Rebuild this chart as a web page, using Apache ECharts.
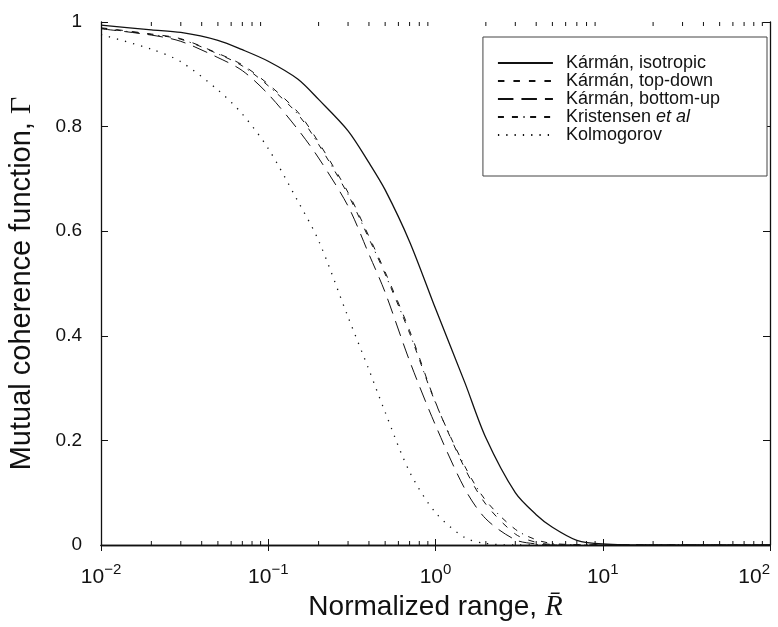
<!DOCTYPE html>
<html>
<head>
<meta charset="utf-8">
<script src="https://cdn.jsdelivr.net/npm/echarts@6/dist/echarts.min.js"></script>
<style>
html,body{margin:0;padding:0;background:#fff;}
#chart{width:778px;height:627px;}
</style>
</head>
<body>
<div id="chart"></div>
<script>
// Normalized range values (x), shared by all curves
const R = [0.01, 0.02, 0.03, 0.05, 0.07, 0.1, 0.15, 0.2, 0.3, 0.4, 0.5, 0.7, 1, 1.5, 2, 3, 4, 5, 7, 10, 20, 50, 100];
// Mutual coherence function values
const karmanIsotropic = [0.994, 0.985, 0.980, 0.965, 0.947, 0.925, 0.891, 0.852, 0.792, 0.731, 0.679, 0.580, 0.452, 0.310, 0.205, 0.100, 0.058, 0.034, 0.009, 0.002, 0, 0, 0];
const karmanTopDown = [0.989, 0.977, 0.968, 0.940, 0.918, 0.881, 0.828, 0.770, 0.674, 0.590, 0.522, 0.410, 0.273, 0.146, 0.078, 0.021, 0.005, 0.001, 0, 0, 0, 0, 0];
const karmanBottomUp = [0.987, 0.975, 0.963, 0.932, 0.907, 0.862, 0.795, 0.740, 0.648, 0.556, 0.483, 0.352, 0.229, 0.107, 0.050, 0.010, 0.002, 0, 0, 0, 0, 0, 0];
const kristensen = [0.988, 0.976, 0.967, 0.939, 0.916, 0.878, 0.824, 0.766, 0.670, 0.586, 0.518, 0.405, 0.272, 0.150, 0.085, 0.030, 0.010, 0.003, 0.0005, 0, 0, 0, 0];
const kolmogorov = [0.976, 0.948, 0.924, 0.870, 0.824, 0.758, 0.658, 0.582, 0.436, 0.335, 0.254, 0.140, 0.062, 0.014, 0.003, 0, 0, 0, 0, 0, 0, 0, 0];
// Axis tick labels
const xDecades = [0.01, 0.1, 1, 10, 100];
const xExponents = ['\u22122', '\u22121', '0', '1', '2'];
const yTicks = [0, 0.2, 0.4, 0.6, 0.8, 1];
const seriesNames = ['Kármán, isotropic', 'Kármán, top-down', 'Kármán, bottom-up', 'Kristensen et al', 'Kolmogorov'];

const FONT = "'Liberation Sans', Arial, sans-serif";
const SERIF = "'Liberation Serif', 'Times New Roman', serif";

// minor tick positions on the log axis (2..9 x 10^k)
const minorTicks = [];
for (let d = 0; d < xDecades.length - 1; d++) {
  for (let m = 2; m <= 9; m++) minorTicks.push(xDecades[d] * m);
}

function pairs(vals) { return R.map((r, i) => [r, vals[i]]); }

const styles = [
  { type: 'solid', width: 1.3 },
  { type: [6.5, 9], width: 1 },
  { type: [15.5, 8], width: 1 },
  { type: [6, 8, 6, 5.5, 1.2, 5.5], width: 1 },
  { type: [1.3, 7], width: 1.3 }
];
const dataSets = [karmanIsotropic, karmanTopDown, karmanBottomUp, kristensen, kolmogorov];

const lineSeries = dataSets.map((d, i) => ({
  name: seriesNames[i],
  type: 'line',
  data: pairs(d),
  symbol: 'none',
  showSymbol: false,
  smooth: 0.3,
  lineStyle: { color: '#111', width: styles[i].width, type: styles[i].type },
  itemStyle: { color: '#111' },
  z: 3
}));

const chart = echarts.init(document.getElementById('chart'), null, { renderer: 'canvas' });
chart.setOption({
  backgroundColor: '#fff',
  animation: false,
  grid: { left: 101, right: 8, top: 22, bottom: 82, containLabel: false, outerBoundsMode: 'none' },
  legend: {
    data: seriesNames,
    orient: 'vertical',
    right: 11,
    top: 37,
    itemWidth: 55,
    itemHeight: 10,
    itemGap: 0,
    padding: [17, 47, 32, 14],
    borderColor: '#444',
    borderWidth: 1,
    backgroundColor: '#fff',
    itemStyle: { color: 'rgba(0,0,0,0)', borderColor: 'rgba(0,0,0,0)', borderWidth: 0, opacity: 0 },
    formatter: function (n) {
      if (n === 'Kristensen et al') return '{n|Kristensen }{i|et al}';
      return '{n|' + n + '}';
    },
    textStyle: {
      color: '#111',
      rich: {
        n: { fontFamily: FONT, fontSize: 18, lineHeight: 18, color: '#111', padding: [0, 0, 0, 8] },
        i: { fontFamily: FONT, fontSize: 18, lineHeight: 18, fontStyle: 'italic', color: '#111' }
      }
    }
  },
  xAxis: [{
    type: 'log',
    logBase: 10,
    min: 0.01,
    max: 100,
    position: 'bottom',
    name: '{n|Normalized range, }{r|R\u0304}',
    nameLocation: 'middle',
    nameGap: 44,
    nameTextStyle: {
      rich: {
        n: { fontFamily: FONT, fontSize: 28, color: '#111' },
        r: { fontFamily: SERIF, fontSize: 29, fontStyle: 'italic', color: '#111' }
      }
    },
    axisLine: { lineStyle: { color: '#111', width: 1.3 } },
    axisTick: { inside: true, length: 6, lineStyle: { color: '#111' } },
    splitLine: { show: false },
    axisLabel: {
      margin: 17,
      alignMaxLabel: 'right',
      formatter: function (v) {
        const idx = xDecades.findIndex(d => Math.abs(Math.log10(d) - Math.log10(v)) < 1e-6);
        return '{b|10}{s|' + xExponents[idx] + '}';
      },
      rich: {
        b: { fontFamily: FONT, fontSize: 21, color: '#111', lineHeight: 26, verticalAlign: 'bottom' },
        s: { fontFamily: FONT, fontSize: 15, color: '#111', lineHeight: 26, verticalAlign: 'top' }
      }
    }
  }, {
    type: 'log',
    logBase: 10,
    min: 0.01,
    max: 100,
    position: 'top',
    axisLine: { lineStyle: { color: '#111', width: 1.3 } },
    axisTick: { inside: true, length: 6, lineStyle: { color: '#111' } },
    axisLabel: { show: false },
    splitLine: { show: false }
  }],
  yAxis: [{
    type: 'value',
    min: 0,
    max: 1,
    interval: 0.2,
    position: 'left',
    name: '{n|Mutual coherence function, }{g|\u0393}',
    nameLocation: 'middle',
    nameRotate: 90,
    nameGap: 64,
    nameTextStyle: {
      rich: {
        n: { fontFamily: FONT, fontSize: 29, color: '#111' },
        g: { fontFamily: SERIF, fontSize: 30, color: '#111' }
      }
    },
    axisLine: { show: true, lineStyle: { color: '#111', width: 1.3 } },
    axisTick: { show: true, inside: true, length: 7, lineStyle: { color: '#111' } },
    splitLine: { show: false },
    axisLabel: {
      margin: 19,
      fontFamily: FONT,
      fontSize: 19,
      color: '#111',
      formatter: function (v) { return String(Math.round(v * 10) / 10); }
    }
  }, {
    type: 'value',
    min: 0,
    max: 1,
    interval: 0.2,
    position: 'right',
    axisLine: { show: true, lineStyle: { color: '#111', width: 1.3 } },
    axisTick: { show: true, inside: true, length: 7, lineStyle: { color: '#111' } },
    axisLabel: { show: false },
    splitLine: { show: false }
  }],
  series: lineSeries.concat([{
    type: 'custom',
    name: 'minorTicks',
    silent: true,
    data: minorTicks.map(v => [v, 0]),
    renderItem: function (params, api) {
      const x = api.value(0);
      const pb = api.coord([x, 0]);
      const pt = api.coord([x, 1]);
      return {
        type: 'group',
        children: [
          { type: 'line', shape: { x1: pb[0], y1: pb[1], x2: pb[0], y2: pb[1] - 4 }, style: { stroke: '#111', lineWidth: 1 } },
          { type: 'line', shape: { x1: pt[0], y1: pt[1], x2: pt[0], y2: pt[1] + 4 }, style: { stroke: '#111', lineWidth: 1 } }
        ]
      };
    },
    z: 2
  }])
});
</script>
</body>
</html>
